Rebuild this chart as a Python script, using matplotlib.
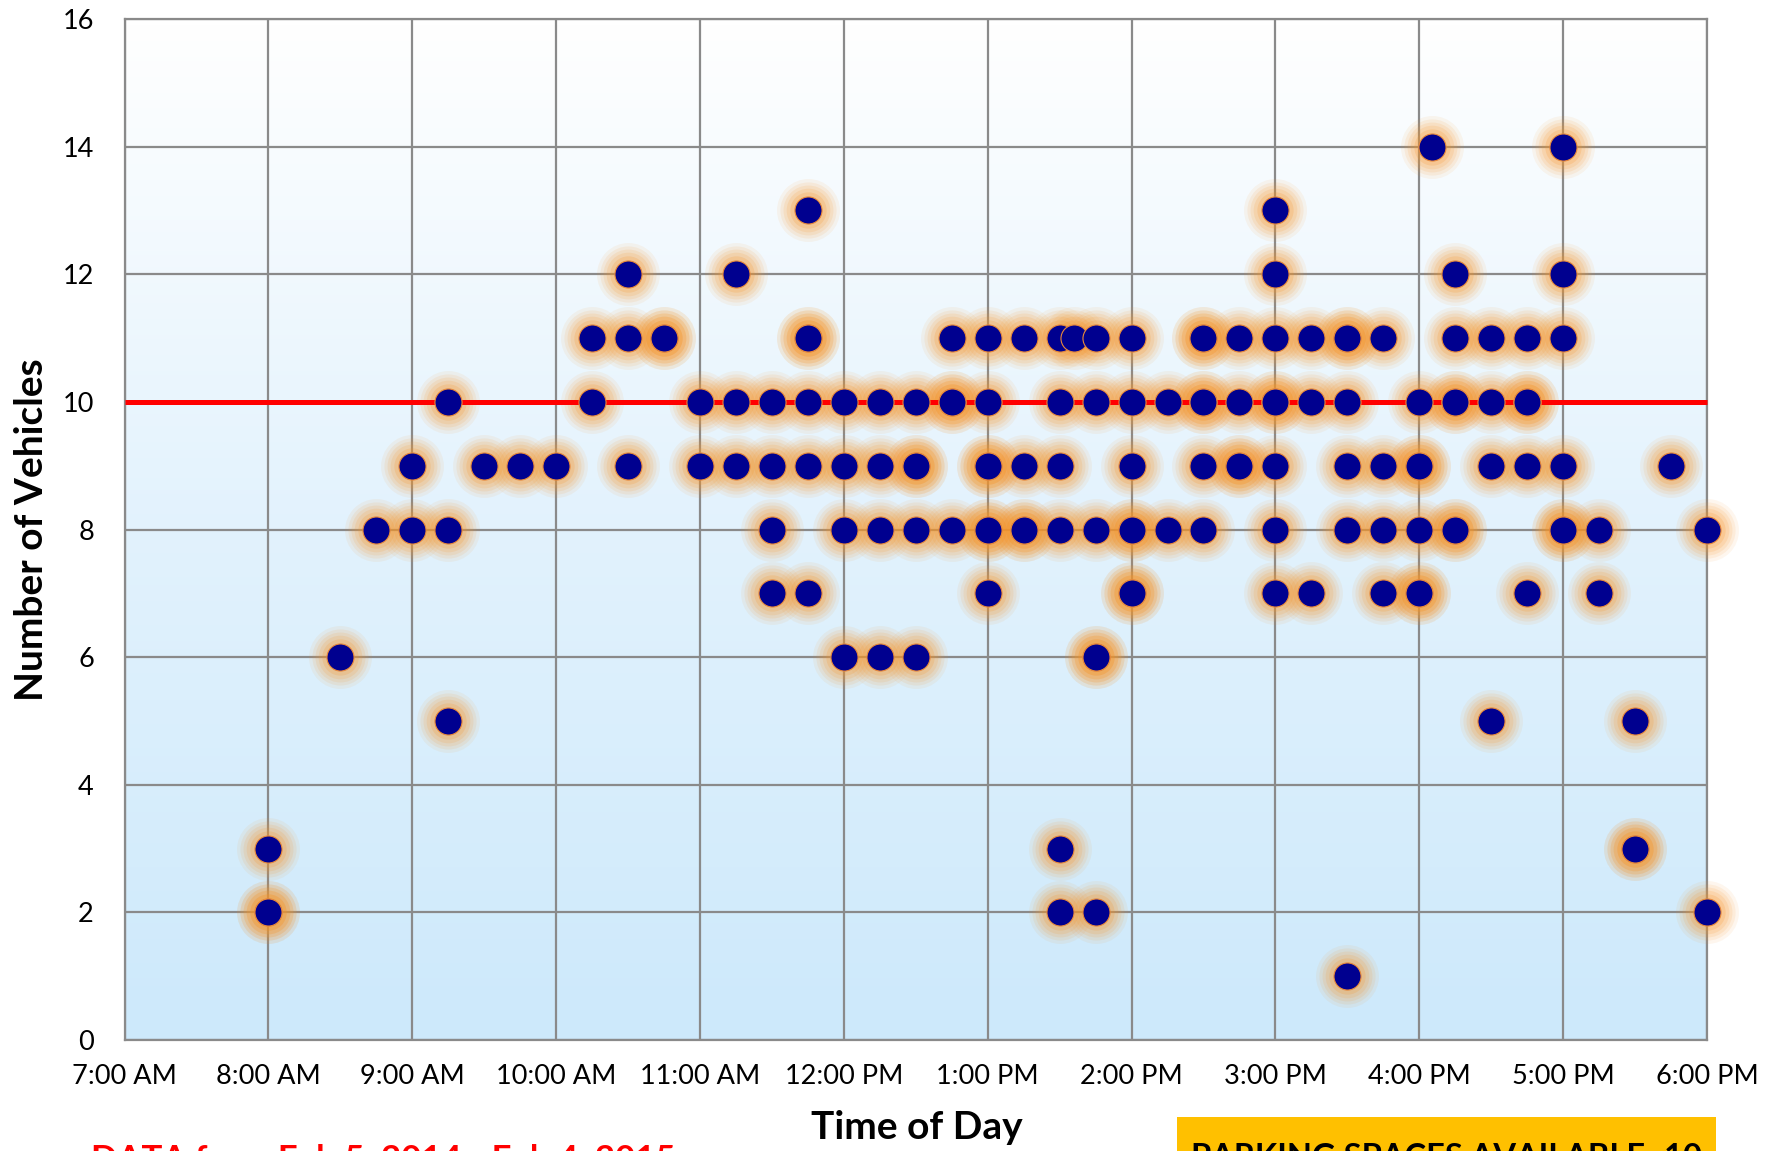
import numpy as np
import matplotlib
matplotlib.use("Agg")
import matplotlib.pyplot as plt
from matplotlib.colors import LinearSegmentedColormap
from matplotlib.patches import Rectangle

plt.rcParams['font.family'] = ['Lato', 'DejaVu Sans']

# ---- data: observation time (hours, 24h clock) and number of vehicles ----
obs_time = [
    # 14 vehicles
    16.09, 17.0,
    # 13
    11.75, 15.0,
    # 12
    10.5, 11.25, 15.0, 16.25, 17.0,
    # 11
    10.25, 10.5, 10.75, 10.75, 11.75, 11.75, 12.75, 13.0, 13.25, 13.5, 13.6, 13.75, 14.0,
    14.5, 14.5, 14.75, 15.0, 15.25, 15.5, 15.5, 15.75, 16.25, 16.5, 16.75, 17.0,
    # 10
    9.25, 10.25, 11.0, 11.25, 11.5, 11.75, 12.0, 12.25, 12.5, 12.75, 12.75, 13.0, 13.5, 13.75,
    14.0, 14.25, 14.5, 14.5, 14.75, 15.0, 15.0, 15.25, 15.5, 16.0, 16.25, 16.25, 16.5, 16.75, 16.75,
    # 9
    9.0, 9.5, 9.75, 10.0, 10.5, 11.0, 11.25, 11.5, 11.75, 12.0, 12.25, 12.5, 12.5, 13.0, 13.0,
    13.25, 13.5, 14.0, 14.5, 14.75, 14.75, 15.0, 15.5, 15.75, 16.0, 16.0, 16.5, 16.75, 17.0, 17.75,
    # 8
    8.75, 9.0, 9.25, 11.5, 12.0, 12.25, 12.5, 12.75, 13.0, 13.0, 13.25, 13.25, 13.5, 13.75,
    14.0, 14.0, 14.25, 14.5, 15.0, 15.5, 15.75, 16.0, 16.25, 16.25, 17.0, 17.0, 17.25, 18.0,
    # 7
    11.5, 11.75, 13.0, 14.0, 14.0, 15.0, 15.25, 15.75, 16.0, 16.0, 16.75, 17.25,
    # 6
    8.5, 12.0, 12.25, 12.5, 13.75, 13.75,
    # 5
    9.25, 16.5, 17.5,
    # 3
    8.0, 13.5, 17.5, 17.5,
    # 2
    8.0, 8.0, 13.5, 13.75, 18.0,
    # 1
    15.5,
]
obs_vehicles = (
    [14] * 2 + [13] * 2 + [12] * 5 + [11] * 25 + [10] * 29 + [9] * 30 + [8] * 28
    + [7] * 12 + [6] * 6 + [5] * 3 + [3] * 4 + [2] * 5 + [1] * 1
)

spaces_available = 10
x_ticks = list(range(7, 19))
x_tick_labels = ['7:00 AM', '8:00 AM', '9:00 AM', '10:00 AM', '11:00 AM', '12:00 PM',
                 '1:00 PM', '2:00 PM', '3:00 PM', '4:00 PM', '5:00 PM', '6:00 PM']
y_ticks = list(range(0, 17, 2))

# ---- figure ----
W, H, DPI = 1775, 1151, 100
fig = plt.figure(figsize=(W / DPI, H / DPI), dpi=DPI)
AL, AR, AT, AB = 124.5, 1707, 19, 1040
ax = fig.add_axes([AL / W, 1 - AB / H, (AR - AL) / W, (AB - AT) / H])

ax.set_xlim(7, 18)
ax.set_ylim(0, 16)

# gradient background
cmap = LinearSegmentedColormap.from_list('bg', ['#cde9fb', '#e2f2fd', '#ffffff'])
grad = np.linspace(0, 1, 256).reshape(-1, 1)
ax.imshow(grad, extent=[7, 18, 0, 16], origin='lower', aspect='auto', cmap=cmap,
          zorder=0, interpolation='bicubic')

ax.set_xticks(x_ticks)
ax.set_xticklabels(x_tick_labels)
ax.set_yticks(y_ticks)
ax.grid(True, color='#8a8a8a', linewidth=1.6, zorder=1)
ax.set_axisbelow(True)
for sp in ax.spines.values():
    sp.set_color('#8a8a8a')
    sp.set_linewidth(1.6)
ax.tick_params(axis='x', length=0, labelsize=19.5, pad=17, colors='black')
ax.tick_params(axis='y', length=0, labelsize=19.5, pad=22, colors='black')

# glow
xs = np.array(obs_time)
ys = np.array(obs_vehicles)
msize = 380
for k, a in zip([5.4, 4.3, 3.4, 2.6, 1.8], [0.08, 0.10, 0.12, 0.15, 0.2]):
    ax.scatter(xs, ys, s=msize * k, color='#f7962b', alpha=a, linewidths=0,
               zorder=3, clip_on=False)

# red threshold line
ax.plot([7, 18], [spaces_available, spaces_available], color='#ff0000', linewidth=3.6,
        zorder=4, clip_on=False, solid_capstyle='butt')

# markers
ax.scatter(xs, ys, s=msize, color='#00008f', edgecolors='#e8893a', linewidths=0.8,
           zorder=5, clip_on=False)

ax.set_xlabel('Time of Day', fontsize=28, fontweight='bold')
ax.set_ylabel('Number of Vehicles', fontsize=28, fontweight='bold', va='center')
ax.yaxis.set_label_coords(-(AL - 32) / (AR - AL), 0.5)
ax.xaxis.set_label_coords((917 - AL) / (AR - AL), -(1110 - AB) / (AB - AT))

# bottom notes (cut off by the figure edge as in the reference)
fig.text(91 / W, 1 - 1143 / H, 'DATA from Feb 5, 2014 - Feb 4, 2015', color='#ff0000',
         fontsize=25, fontweight='bold', ha='left', va='top')
fig.patches.append(Rectangle((1177 / W, 0), (1716 - 1177) / W, (1151 - 1117) / H,
                             transform=fig.transFigure, facecolor='#ffc000',
                             edgecolor='none', zorder=1))
fig.text((1177 + 1716) / 2 / W, 1 - 1143 / H, 'PARKING SPACES AVAILABLE=10', color='black',
         fontsize=23.5, fontweight='bold', ha='center', va='top', zorder=2)

fig.savefig('out.png', dpi=DPI)
